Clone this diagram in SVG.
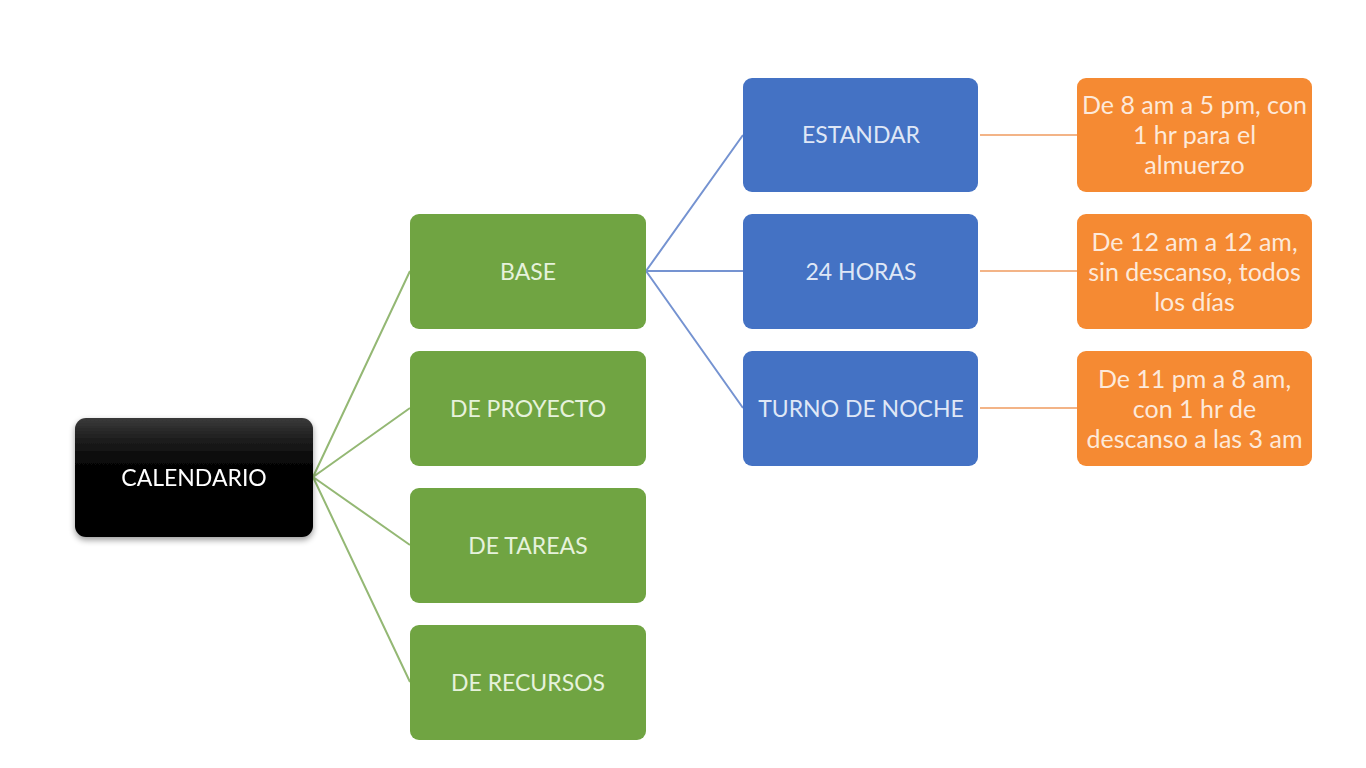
<svg xmlns="http://www.w3.org/2000/svg" width="1366" height="768" viewBox="0 0 1366 768">
<defs>
<linearGradient id="blk" x1="0" y1="0" x2="0" y2="1">
<stop offset="0" stop-color="#3a3a3a"/>
<stop offset="0.15" stop-color="#222"/>
<stop offset="0.35" stop-color="#080808"/>
<stop offset="0.55" stop-color="#000"/>
<stop offset="1" stop-color="#000"/>
</linearGradient>
<filter id="sh" x="-10%" y="-10%" width="120%" height="130%">
<feGaussianBlur in="SourceAlpha" stdDeviation="3"/>
<feOffset dx="0" dy="3" result="b"/>
<feComponentTransfer><feFuncA type="linear" slope="0.4"/></feComponentTransfer>
<feMerge><feMergeNode/><feMergeNode in="SourceGraphic"/></feMerge>
</filter>
</defs>
<style>
text{font-family:"Lato","Liberation Sans",sans-serif;font-size:23px;text-anchor:middle;dominant-baseline:central}
.g rect{fill:#70a442}
.g text{fill:#e6f2dc}
.b rect{fill:#4472c4}
.b text{fill:#dfe7f6}
.o rect{fill:#f58a33}
.o text{fill:#fde9da;font-size:25px}
.lg{stroke:#94b874;stroke-width:2;fill:none}
.lb{stroke:#7593d1;stroke-width:2;fill:none}
.lo{stroke:#f3b487;stroke-width:2;fill:none}
</style>
<rect width="1366" height="768" fill="#fff"/>
<g id="connectors">
<path class="lg" d="M313 477L410 271M313 477L410 408M313 477L410 545M313 477L410 682"/>
<path class="lb" d="M646 271L743 135M646 271L743 271M646 271L743 408"/>
<path class="lo" d="M980 135L1077 135M980 271L1077 271M980 408L1077 408"/>
</g>
<g id="calendario" filter="url(#sh)">
<rect x="75" y="418" width="238" height="119" rx="11" fill="url(#blk)"/>
<text x="194" y="477" fill="#fff">CALENDARIO</text>
</g>
<g id="base" class="g"><rect x="410" y="214" width="236" height="115" rx="9"/><text x="528" y="271">BASE</text></g>
<g id="proyecto" class="g"><rect x="410" y="351" width="236" height="115" rx="9"/><text x="528" y="408">DE PROYECTO</text></g>
<g id="tareas" class="g"><rect x="410" y="488" width="236" height="115" rx="9"/><text x="528" y="545">DE TAREAS</text></g>
<g id="recursos" class="g"><rect x="410" y="625" width="236" height="115" rx="9"/><text x="528" y="682">DE RECURSOS</text></g>
<g id="estandar" class="b"><rect x="743" y="78" width="235" height="114" rx="9"/><text x="861" y="134">ESTANDAR</text></g>
<g id="h24" class="b"><rect x="743" y="214" width="235" height="115" rx="9"/><text x="861" y="271">24 HORAS</text></g>
<g id="noche" class="b"><rect x="743" y="351" width="235" height="115" rx="9"/><text x="861" y="408">TURNO DE NOCHE</text></g>
<g id="o1" class="o"><rect x="1077" y="78" width="235" height="114" rx="9"/>
<text x="1194.5" y="104">De 8 am a 5 pm, con</text><text x="1194.5" y="134">1 hr para el</text><text x="1194.5" y="164">almuerzo</text></g>
<g id="o2" class="o"><rect x="1077" y="214" width="235" height="115" rx="9"/>
<text x="1194.5" y="241">De 12 am a 12 am,</text><text x="1194.5" y="271">sin descanso, todos</text><text x="1194.5" y="301">los días</text></g>
<g id="o3" class="o"><rect x="1077" y="351" width="235" height="115" rx="9"/>
<text x="1194.5" y="378">De 11 pm a 8 am,</text><text x="1194.5" y="408">con 1 hr de</text><text x="1194.5" y="438">descanso a las 3 am</text></g>
</svg>
